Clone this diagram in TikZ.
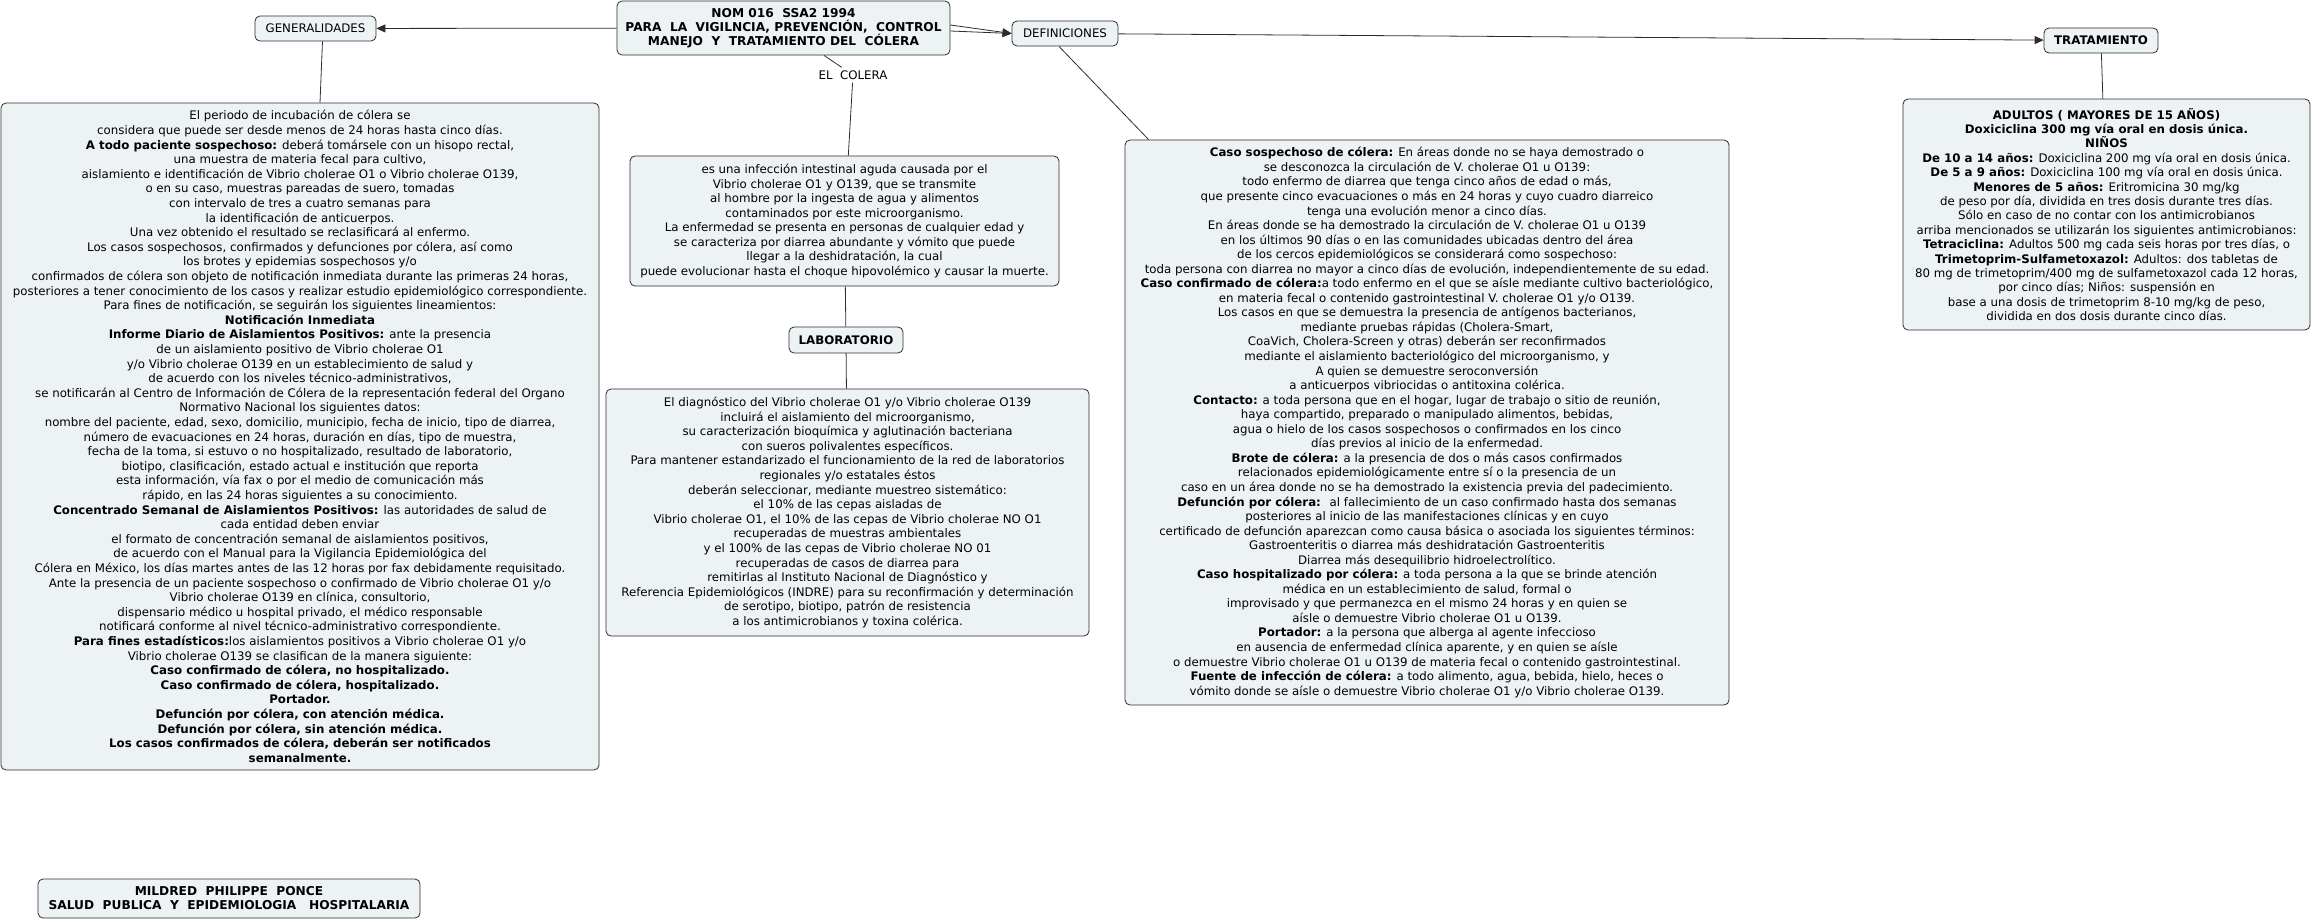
\documentclass[tikz,border=0pt]{standalone}
\usepackage{fontspec}
\setmainfont{DejaVu Sans}
\usetikzlibrary{arrows.meta}
\definecolor{relleno}{RGB}{237,243,245}
\definecolor{borde}{RGB}{45,45,45}

\begin{document}
\begin{tikzpicture}[x=1pt, y=-1pt,
    >={Triangle[length=9pt,width=8pt]},
    concepto/.style={draw=borde, fill=relleno, rounded corners=5pt, line width=0.8pt,
        align=center, inner sep=2pt, font=\fontsize{11.8}{14.5}\selectfont},
    enlace/.style={draw=borde, line width=0.8pt}]
    \useasboundingbox (0,0) rectangle (2313,921);

    % conceptos principales
    \node[concepto, font=\fontsize{12.2}{14}\selectfont\bfseries, minimum width=333, minimum height=54] (titulo) at (783.5,28)
        {NOM 016~ SSA2 1994\\PARA~ LA~ VIGILNCIA, PREVENCIÓN,~ CONTROL\\MANEJO~ Y~ TRATAMIENTO DEL~ CÓLERA};
    \node[concepto, minimum width=121, minimum height=25] (generalidades) at (315.5,28.5) {GENERALIDADES};
    \node[concepto, minimum width=106, minimum height=25] (definiciones) at (1065,33.5) {DEFINICIONES};
    \node[concepto, font=\fontsize{11.8}{14}\selectfont\bfseries, minimum width=114, minimum height=25] (tratamiento) at (2101,40.5) {TRATAMIENTO};
    \node[concepto, font=\fontsize{11.8}{14}\selectfont\bfseries, minimum width=114, minimum height=26] (laboratorio) at (846,340) {LABORATORIO};
    \node[font=\fontsize{11.8}{14}\selectfont, inner sep=3pt] (elcolera) at (853,75) {EL~ COLERA};

    % generalidades
    \node[concepto, font=\fontsize{11.8}{14.6}\selectfont, minimum width=598, minimum height=667] (genbox) at (300,436.5) {%
        El periodo de incubación de cólera se\\
        considera que puede ser desde menos de 24 horas hasta cinco días.\\
        \textbf{A todo paciente sospechoso:} deberá tomársele con un hisopo rectal,\\
        una muestra de materia fecal para cultivo,\\
        aislamiento e identificación de Vibrio cholerae O1 o Vibrio cholerae O139,\\
        o en su caso, muestras pareadas de suero, tomadas\\
        con intervalo de tres a cuatro semanas para\\
        la identificación de anticuerpos.\\
        Una vez obtenido el resultado se reclasificará al enfermo.\\
        Los casos sospechosos, confirmados y defunciones por cólera, así como\\
        los brotes y epidemias sospechosos y/o\\
        confirmados de cólera son objeto de notificación inmediata durante las primeras 24 horas,\\
        posteriores a tener conocimiento de los casos y realizar estudio epidemiológico correspondiente.\\
        Para fines de notificación, se seguirán los siguientes lineamientos:\\
        \textbf{Notificación Inmediata}\\
        \textbf{Informe Diario de Aislamientos Positivos:} ante la presencia\\
        de un aislamiento positivo de Vibrio cholerae O1\\
        y/o Vibrio cholerae O139 en un establecimiento de salud y\\
        de acuerdo con los niveles técnico-administrativos,\\
        se notificarán al Centro de Información de Cólera de la representación federal del Organo\\
        Normativo Nacional los siguientes datos:\\
        nombre del paciente, edad, sexo, domicilio, municipio, fecha de inicio, tipo de diarrea,\\
        número de evacuaciones en 24 horas, duración en días, tipo de muestra,\\
        fecha de la toma, si estuvo o no hospitalizado, resultado de laboratorio,\\
        biotipo, clasificación, estado actual e institución que reporta\\
        esta información, vía fax o por el medio de comunicación más\\
        rápido, en las 24 horas siguientes a su conocimiento.\\
        \textbf{Concentrado Semanal de Aislamientos Positivos:} las autoridades de salud de\\
        cada entidad deben enviar\\
        el formato de concentración semanal de aislamientos positivos,\\
        de acuerdo con el Manual para la Vigilancia Epidemiológica del\\
        Cólera en México, los días martes antes de las 12 horas por fax debidamente requisitado.\\
        Ante la presencia de un paciente sospechoso o confirmado de Vibrio cholerae O1 y/o\\
        Vibrio cholerae O139 en clínica, consultorio,\\
        dispensario médico u hospital privado, el médico responsable\\
        notificará conforme al nivel técnico-administrativo correspondiente.\\
        \textbf{Para fines estadísticos:}los aislamientos positivos a Vibrio cholerae O1 y/o\\
        Vibrio cholerae O139 se clasifican de la manera siguiente:\\
        \textbf{Caso confirmado de cólera, no hospitalizado.}\\
        \textbf{Caso confirmado de cólera, hospitalizado.}\\
        \textbf{Portador.}\\
        \textbf{Defunción por cólera, con atención médica.}\\
        \textbf{Defunción por cólera, sin atención médica.}\\
        \textbf{Los casos confirmados de cólera, deberán ser notificados}\\
        \textbf{semanalmente.}};

    % el colera
    \node[concepto, minimum width=429, minimum height=130] (colbox) at (844.5,221) {%
        es una infección intestinal aguda causada por el\\
        Vibrio cholerae O1 y O139, que se transmite\\
        al hombre por la ingesta de agua y alimentos\\
        contaminados por este microorganismo.\\
        La enfermedad se presenta en personas de cualquier edad y\\
        se caracteriza por diarrea abundante y vómito que puede\\
        llegar a la deshidratación, la cual\\
        puede evolucionar hasta el choque hipovolémico y causar la muerte.};

    % laboratorio
    \node[concepto, font=\fontsize{11.8}{14.6}\selectfont, minimum width=483, minimum height=247] (labbox) at (847.5,512.5) {%
        El diagnóstico del Vibrio cholerae O1 y/o Vibrio cholerae O139\\
        incluirá el aislamiento del microorganismo,\\
        su caracterización bioquímica y aglutinación bacteriana\\
        con sueros polivalentes específicos.\\
        Para mantener estandarizado el funcionamiento de la red de laboratorios\\
        regionales y/o estatales éstos\\
        deberán seleccionar, mediante muestreo sistemático:\\
        el 10\% de las cepas aisladas de\\
        Vibrio cholerae O1, el 10\% de las cepas de Vibrio cholerae NO O1\\
        recuperadas de muestras ambientales\\
        y el 100\% de las cepas de Vibrio cholerae NO 01\\
        recuperadas de casos de diarrea para\\
        remitirlas al Instituto Nacional de Diagnóstico y\\
        Referencia Epidemiológicos (INDRE) para su reconfirmación y determinación\\
        de serotipo, biotipo, patrón de resistencia\\
        a los antimicrobianos y toxina colérica.};

    % definiciones
    \node[concepto, font=\fontsize{11.8}{14.55}\selectfont, minimum width=604, minimum height=565] (defbox) at (1427,422.5) {%
        \textbf{Caso sospechoso de cólera:} En áreas donde no se haya demostrado o\\
        se desconozca la circulación de V. cholerae O1 u O139:\\
        todo enfermo de diarrea que tenga cinco años de edad o más,\\
        que presente cinco evacuaciones o más en 24 horas y cuyo cuadro diarreico\\
        tenga una evolución menor a cinco días.\\
        En áreas donde se ha demostrado la circulación de V. cholerae O1 u O139\\
        en los últimos 90 días o en las comunidades ubicadas dentro del área\\
        de los cercos epidemiológicos se considerará como sospechoso:\\
        toda persona con diarrea no mayor a cinco días de evolución, independientemente de su edad.\\
        \textbf{Caso confirmado de cólera:}a todo enfermo en el que se aísle mediante cultivo bacteriológico,\\
        en materia fecal o contenido gastrointestinal V. cholerae O1 y/o O139.\\
        Los casos en que se demuestra la presencia de antígenos bacterianos,\\
        mediante pruebas rápidas (Cholera-Smart,\\
        CoaVich, Cholera-Screen y otras) deberán ser reconfirmados\\
        mediante el aislamiento bacteriológico del microorganismo, y\\
        A quien se demuestre seroconversión\\
        a anticuerpos vibriocidas o antitoxina colérica.\\
        \textbf{Contacto:} a toda persona que en el hogar, lugar de trabajo o sitio de reunión,\\
        haya compartido, preparado o manipulado alimentos, bebidas,\\
        agua o hielo de los casos sospechosos o confirmados en los cinco\\
        días previos al inicio de la enfermedad.\\
        \textbf{Brote de cólera:} a la presencia de dos o más casos confirmados\\
        relacionados epidemiológicamente entre sí o la presencia de un\\
        caso en un área donde no se ha demostrado la existencia previa del padecimiento.\\
        \textbf{Defunción por cólera:}~ al fallecimiento de un caso confirmado hasta dos semanas\\
        posteriores al inicio de las manifestaciones clínicas y en cuyo\\
        certificado de defunción aparezcan como causa básica o asociada los siguientes términos:\\
        Gastroenteritis o diarrea más deshidratación Gastroenteritis\\
        Diarrea más desequilibrio hidroelectrolítico.\\
        \textbf{Caso hospitalizado por cólera:} a toda persona a la que se brinde atención\\
        médica en un establecimiento de salud, formal o\\
        improvisado y que permanezca en el mismo 24 horas y en quien se\\
        aísle o demuestre Vibrio cholerae O1 u O139.\\
        \textbf{Portador:} a la persona que alberga al agente infeccioso\\
        en ausencia de enfermedad clínica aparente, y en quien se aísle\\
        o demuestre Vibrio cholerae O1 u O139 de materia fecal o contenido gastrointestinal.\\
        \textbf{Fuente de infección de cólera:} a todo alimento, agua, bebida, hielo, heces o\\
        vómito donde se aísle o demuestre Vibrio cholerae O1 y/o Vibrio cholerae O139.};

    % tratamiento
    \node[concepto, font=\fontsize{11.8}{14.4}\selectfont, minimum width=407, minimum height=231] (tratbox) at (2106.5,214.5) {%
        \textbf{ADULTOS ( MAYORES DE 15 AÑOS)}\\
        \textbf{Doxiciclina 300 mg vía oral en dosis única.}\\
        \textbf{NIÑOS}\\
        \textbf{De 10 a 14 años:} Doxiciclina 200 mg vía oral en dosis única.\\
        \textbf{De 5 a 9 años:} Doxiciclina 100 mg vía oral en dosis única.\\
        \textbf{Menores de 5 años:} Eritromicina 30 mg/kg\\
        de peso por día, dividida en tres dosis durante tres días.\\
        Sólo en caso de no contar con los antimicrobianos\\
        arriba mencionados se utilizarán los siguientes antimicrobianos:\\
        \textbf{Tetraciclina:} Adultos 500 mg cada seis horas por tres días, o\\
        \textbf{Trimetoprim-Sulfametoxazol:} Adultos: dos tabletas de\\
        80 mg de trimetoprim/400 mg de sulfametoxazol cada 12 horas,\\
        por cinco días; Niños: suspensión en\\
        base a una dosis de trimetoprim 8-10 mg/kg de peso,\\
        dividida en dos dosis durante cinco días.};

    % autora
    \node[concepto, font=\fontsize{12.2}{14}\selectfont\bfseries, minimum width=382, minimum height=39] (autora) at (229,898.5)
        {MILDRED~ PHILIPPE~ PONCE\\SALUD~ PUBLICA~ Y~ EPIDEMIOLOGIA~~ HOSPITALARIA};

    % conectores
    \draw[enlace, ->] (titulo) -- (generalidades);
    \draw[enlace, ->] ([yshift=3]titulo.east) -- (definiciones.west);
    \draw[enlace, ->] ([yshift=-3]titulo.east) -- (definiciones.west);
    \draw[enlace, ->] (definiciones) -- (tratamiento);
    \draw[enlace] ([xshift=7]generalidades.south) -- ([xshift=20]genbox.north);
    \draw[enlace] (titulo) -- (elcolera);
    \draw[enlace] (elcolera) -- (colbox);
    \draw[enlace] (colbox) -- (laboratorio);
    \draw[enlace] (laboratorio) -- (labbox);
    \draw[enlace] ([xshift=-6]definiciones.south) -- ([xshift=24]defbox.north west);
    \draw[enlace] (tratamiento) -- (tratbox);
\end{tikzpicture}
\end{document}
